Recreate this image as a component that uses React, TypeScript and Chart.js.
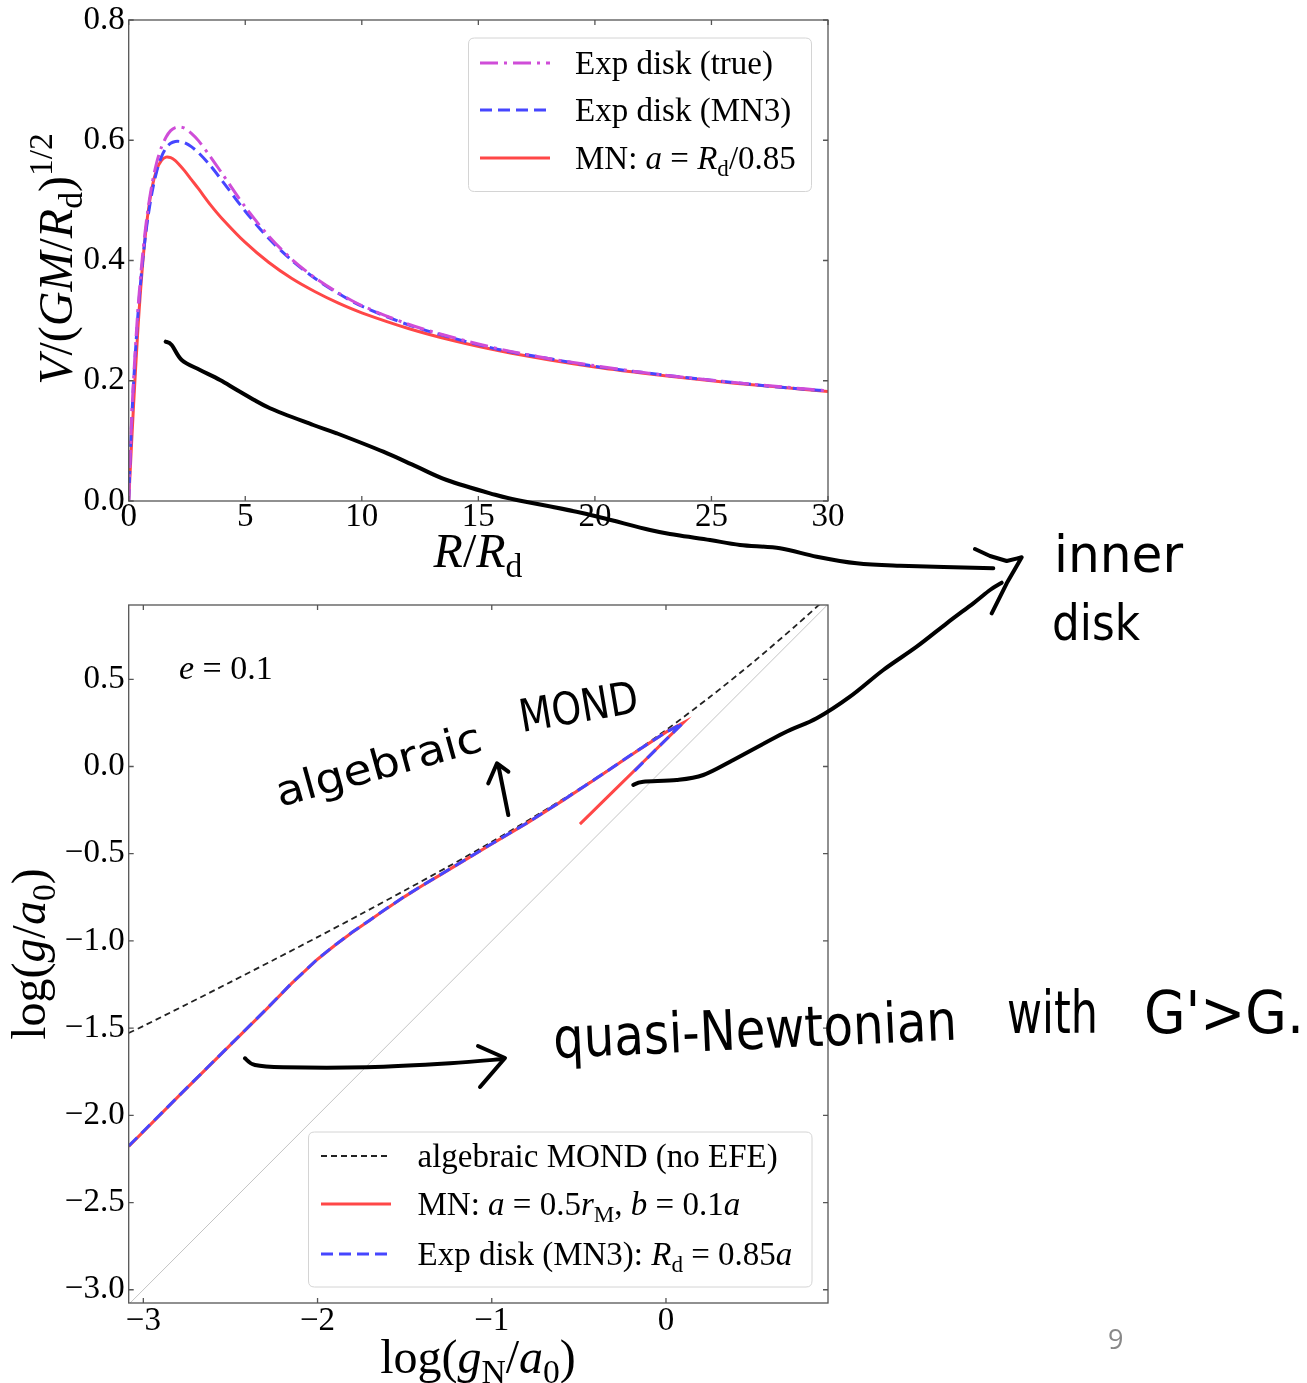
import React, { useEffect, useRef } from "react";
import { Chart, registerables } from "chart.js";
Chart.register(...registerables);

const SERIF = '"Liberation Serif", "Times New Roman", Times, serif';
const HAND = '"DejaVu Sans", "Noto Sans", sans-serif';

const MAGENTA = "#cf4dd8";
const BLUE = "#4646ff";
const RED = "#ff4747";

// ---------- Top panel: rotation curves ----------
const R_TOP = [0, 0.1, 0.2, 0.4, 0.6, 0.8, 1.0, 1.2, 1.4, 1.6, 1.8, 2.0, 2.2, 2.4, 2.7, 3.0, 3.5, 4, 5, 6, 7, 8, 9, 10, 12, 14, 16, 18, 20, 22, 24, 26, 28, 30];
const V_EXP_TRUE = [0, 0.114, 0.197, 0.321, 0.411, 0.478, 0.527, 0.563, 0.588, 0.605, 0.616, 0.621, 0.622, 0.620, 0.611, 0.599, 0.573, 0.545, 0.489, 0.441, 0.402, 0.371, 0.346, 0.325, 0.294, 0.271, 0.252, 0.237, 0.225, 0.214, 0.205, 0.197, 0.190, 0.183];
const V_EXP_MN3 = [0, 0.108, 0.190, 0.312, 0.400, 0.465, 0.513, 0.548, 0.572, 0.587, 0.595, 0.598, 0.598, 0.596, 0.589, 0.579, 0.558, 0.533, 0.482, 0.437, 0.400, 0.370, 0.345, 0.324, 0.293, 0.270, 0.251, 0.237, 0.224, 0.214, 0.205, 0.197, 0.189, 0.183];
const V_MN = [0, 0.078, 0.153, 0.289, 0.395, 0.471, 0.521, 0.551, 0.566, 0.572, 0.571, 0.566, 0.558, 0.549, 0.534, 0.519, 0.493, 0.470, 0.430, 0.397, 0.370, 0.348, 0.329, 0.313, 0.287, 0.266, 0.249, 0.235, 0.223, 0.213, 0.204, 0.196, 0.189, 0.182];
const TOP_X_TICKS = [0, 5, 10, 15, 20, 25, 30];
const TOP_Y_TICKS = [0, 0.2, 0.4, 0.6, 0.8];
const TOP_LABELS = ["Exp disk (true)", "Exp disk (MN3)", "MN: a = Rd/0.85"];

// ---------- Bottom panel: radial acceleration relation ----------
const LOG_GN_MN = [-3.084, -2.8, -2.5, -2.3, -2.15, -2.0, -1.9, -1.8, -1.7, -1.6, -1.5, -1.4, -1.3, -1.2, -1.0, -0.8, -0.6, -0.4, -0.2, 0.0, 0.098, -0.1, -0.3, -0.494];
const LOG_G_MN = [-2.178, -1.893, -1.596, -1.398, -1.245, -1.105, -1.025, -0.950, -0.882, -0.812, -0.746, -0.684, -0.624, -0.564, -0.444, -0.326, -0.200, -0.069, 0.066, 0.197, 0.250, 0.056, -0.140, -0.330];
const LOG_GN_MN3 = [-3.084, -2.8, -2.5, -2.3, -2.15, -2.0, -1.9, -1.8, -1.7, -1.6, -1.5, -1.4, -1.3, -1.2, -1.0, -0.8, -0.6, -0.4, -0.2, 0.0, 0.095, -0.05, -0.19];
const LOG_G_MN3 = [-2.176, -1.892, -1.595, -1.397, -1.244, -1.104, -1.024, -0.949, -0.881, -0.811, -0.745, -0.683, -0.623, -0.563, -0.443, -0.325, -0.199, -0.068, 0.067, 0.197, 0.247, 0.105, -0.035];
const LOG_GN_ALG = [-3.084, -3.0, -2.75, -2.5, -2.25, -2.0, -1.75, -1.5, -1.25, -1.0, -0.75, -0.5, -0.25, 0.0, 0.25, 0.5, 0.75, 0.93];
const LOG_G_ALG = [-1.528, -1.488, -1.363, -1.236, -1.108, -0.978, -0.846, -0.711, -0.574, -0.432, -0.284, -0.130, 0.034, 0.209, 0.397, 0.598, 0.812, 0.974];
const LOG_ONE = [-3.084, 0.93];
const BOT_X_TICKS = [-3, -2, -1, 0];
const BOT_Y_TICKS = [-3, -2.5, -2, -1.5, -1, -0.5, 0, 0.5];
const BOT_LABELS = ["algebraic MOND (no EFE)", "MN: a = 0.5rM, b = 0.1a", "Exp disk (MN3): Rd = 0.85a", "1:1"];

const minus = (s: string) => s.replace("-", "\u2212");

type Run = { t: string; it?: boolean; sub?: boolean; sup?: boolean };
function runFont(r: Run, size: number) {
  const s = r.sub || r.sup ? size * 0.7 : size;
  return `${r.it ? "italic " : ""}${s}px ${SERIF}`;
}
function runsWidth(ctx: CanvasRenderingContext2D, runs: Run[], size: number) {
  let w = 0;
  for (const r of runs) {
    ctx.font = runFont(r, size);
    w += ctx.measureText(r.t).width;
  }
  return w;
}
function drawRuns(ctx: CanvasRenderingContext2D, runs: Run[], x: number, y: number, size: number, align = "left") {
  const w = runsWidth(ctx, runs, size);
  let cx = align === "center" ? x - w / 2 : x;
  ctx.textAlign = "left";
  ctx.textBaseline = "alphabetic";
  ctx.fillStyle = "#000";
  for (const r of runs) {
    ctx.font = runFont(r, size);
    const dy = r.sub ? size * 0.2 : r.sup ? -size * 0.42 : 0;
    ctx.fillText(r.t, cx, y + dy);
    cx += ctx.measureText(r.t).width;
  }
}
function legendBox(ctx: CanvasRenderingContext2D, x0: number, y0: number, x1: number, y1: number) {
  const r = 6;
  ctx.beginPath();
  ctx.moveTo(x0 + r, y0);
  ctx.lineTo(x1 - r, y0);
  ctx.quadraticCurveTo(x1, y0, x1, y0 + r);
  ctx.lineTo(x1, y1 - r);
  ctx.quadraticCurveTo(x1, y1, x1 - r, y1);
  ctx.lineTo(x0 + r, y1);
  ctx.quadraticCurveTo(x0, y1, x0, y1 - r);
  ctx.lineTo(x0, y0 + r);
  ctx.quadraticCurveTo(x0, y0, x0 + r, y0);
  ctx.closePath();
  ctx.fillStyle = "rgba(255,255,255,0.85)";
  ctx.fill();
  ctx.strokeStyle = "#d4d4d4";
  ctx.lineWidth = 1;
  ctx.stroke();
}
function sample(ctx: CanvasRenderingContext2D, x0: number, x1: number, y: number, color: string, dash: number[], w: number) {
  ctx.save();
  ctx.beginPath();
  ctx.setLineDash(dash);
  ctx.strokeStyle = color;
  ctx.lineWidth = w;
  ctx.moveTo(x0, y);
  ctx.lineTo(x1, y);
  ctx.stroke();
  ctx.restore();
}

function framePlugin(id: string, xt: number[], yt: number[], offY: number, extra: (ctx: CanvasRenderingContext2D) => void) {
  return {
    id,
    afterDraw(chart: any) {
      const ctx: CanvasRenderingContext2D = chart.ctx;
      const a = chart.chartArea;
      const xs = chart.scales.x;
      const ys = chart.scales.y;
      ctx.save();
      ctx.strokeStyle = "#555";
      ctx.lineWidth = 1.3;
      ctx.setLineDash([]);
      ctx.strokeRect(a.left, a.top, a.right - a.left, a.bottom - a.top);
      ctx.beginPath();
      const L = 5;
      for (const v of xt) {
        const p = xs.getPixelForValue(v);
        ctx.moveTo(p, a.bottom);
        ctx.lineTo(p, a.bottom - L);
        ctx.moveTo(p, a.top);
        ctx.lineTo(p, a.top + L);
      }
      for (const v of yt) {
        const p = ys.getPixelForValue(v);
        ctx.moveTo(a.left, p);
        ctx.lineTo(a.left + L, p);
        ctx.moveTo(a.right, p);
        ctx.lineTo(a.right - L, p);
      }
      ctx.stroke();
      ctx.translate(0, -offY);
      extra(ctx);
      ctx.restore();
    },
  };
}

function axisCommon(min: number, max: number, ticks: number[], fmt: (v: number) => string, pad: number) {
  return {
    type: "linear" as const,
    min,
    max,
    afterBuildTicks: (s: any) => {
      s.ticks = ticks.map((v) => ({ value: v }));
    },
    grid: { display: false, drawTicks: false },
    border: { display: false },
    ticks: {
      color: "#000",
      padding: pad,
      maxRotation: 0,
      autoSkip: false,
      font: { family: SERIF, size: 33, lineHeight: 1 },
      callback: (v: any) => fmt(Number(v)),
    },
  };
}

const topExtras = (ctx: CanvasRenderingContext2D) => {
  legendBox(ctx, 468.5, 38, 811.5, 191.5);
  const rows: { y: number; color: string; dash: number[]; runs: Run[] }[] = [
    { y: 63, color: MAGENTA, dash: [18, 6, 3, 6], runs: [{ t: TOP_LABELS[0] }] },
    { y: 110, color: BLUE, dash: [12, 6], runs: [{ t: TOP_LABELS[1] }] },
    { y: 158, color: RED, dash: [], runs: [{ t: "MN: " }, { t: "a", it: true }, { t: " = " }, { t: "R", it: true }, { t: "d", sub: true }, { t: "/0.85" }] },
  ];
  for (const r of rows) {
    sample(ctx, 480, 550, r.y, r.color, r.dash, 3);
    drawRuns(ctx, r.runs, 575, r.y + 11, 33);
  }
  drawRuns(ctx, [{ t: "R", it: true }, { t: "/" }, { t: "R", it: true }, { t: "d", sub: true }], 478, 567, 48, "center");
  ctx.save();
  ctx.translate(72, 259);
  ctx.rotate(-Math.PI / 2);
  drawRuns(
    ctx,
    [{ t: "V", it: true }, { t: "/(" }, { t: "GM", it: true }, { t: "/" }, { t: "R", it: true }, { t: "d", sub: true }, { t: ")" }, { t: "1/2", sup: true }],
    0,
    0,
    48,
    "center"
  );
  ctx.restore();
};

const botExtras = (ctx: CanvasRenderingContext2D) => {
  drawRuns(ctx, [{ t: "e", it: true }, { t: " = 0.1" }], 179, 679, 34);
  legendBox(ctx, 308.5, 1132, 812, 1287);
  const rows: { y: number; color: string; dash: number[]; w: number; runs: Run[] }[] = [
    { y: 1156, color: "#222", dash: [6, 4], w: 1.8, runs: [{ t: BOT_LABELS[0] }] },
    { y: 1204, color: RED, dash: [], w: 3, runs: [{ t: "MN: " }, { t: "a", it: true }, { t: " = 0.5" }, { t: "r", it: true }, { t: "M", sub: true }, { t: ", " }, { t: "b", it: true }, { t: " = 0.1" }, { t: "a", it: true }] },
    { y: 1254, color: BLUE, dash: [12, 6], w: 3, runs: [{ t: "Exp disk (MN3): " }, { t: "R", it: true }, { t: "d", sub: true }, { t: " = 0.85" }, { t: "a", it: true }] },
  ];
  for (const r of rows) {
    sample(ctx, 321, 391, r.y, r.color, r.dash, r.w);
    drawRuns(ctx, r.runs, 417.5, r.y + 11, 33);
  }
  drawRuns(ctx, [{ t: "log(" }, { t: "g", it: true }, { t: "N", sub: true }, { t: "/" }, { t: "a", it: true }, { t: "0", sub: true }, { t: ")" }], 478, 1373, 48, "center");
  ctx.save();
  ctx.translate(45, 954);
  ctx.rotate(-Math.PI / 2);
  drawRuns(ctx, [{ t: "log(" }, { t: "g", it: true }, { t: "/" }, { t: "a", it: true }, { t: "0", sub: true }, { t: ")" }], 0, 0, 48, "center");
  ctx.restore();
};

const pts = (xs: number[], ys: number[]) => xs.map((x, i) => ({ x, y: ys[i] }));

const line = (p: number[][]) => "M" + p.map((q) => q.join(",")).join(" L");
// smooth Catmull-Rom path through hand-drawn stroke points
const smooth = (p: number[][]) => {
  let d = `M${p[0][0]},${p[0][1]}`;
  for (let i = 0; i < p.length - 1; i++) {
    const p0 = p[Math.max(0, i - 1)];
    const p1 = p[i];
    const p2 = p[i + 1];
    const p3 = p[Math.min(p.length - 1, i + 2)];
    const c1x = p1[0] + (p2[0] - p0[0]) / 6;
    const c1y = p1[1] + (p2[1] - p0[1]) / 6;
    const c2x = p2[0] - (p3[0] - p1[0]) / 6;
    const c2y = p2[1] - (p3[1] - p1[1]) / 6;
    d += ` C${c1x.toFixed(1)},${c1y.toFixed(1)} ${c2x.toFixed(1)},${c2y.toFixed(1)} ${p2[0]},${p2[1]}`;
  }
  return d;
};

export default function App() {
  const topRef = useRef<HTMLCanvasElement>(null);
  const botRef = useRef<HTMLCanvasElement>(null);

  useEffect(() => {
    const top = new Chart(topRef.current as HTMLCanvasElement, {
      type: "line",
      data: {
        datasets: [
          { label: TOP_LABELS[0], data: pts(R_TOP, V_EXP_TRUE), borderColor: MAGENTA, borderDash: [18, 6, 3, 6], borderWidth: 3, pointRadius: 0, tension: 0.3, fill: false },
          { label: TOP_LABELS[1], data: pts(R_TOP, V_EXP_MN3), borderColor: BLUE, borderDash: [12, 6], borderWidth: 3, pointRadius: 0, tension: 0.3, fill: false },
          { label: TOP_LABELS[2], data: pts(R_TOP, V_MN), borderColor: RED, borderWidth: 3, pointRadius: 0, tension: 0.3, fill: false },
        ],
      },
      options: {
        responsive: false,
        animation: false,
        events: [],
        layout: { padding: { top: 20, right: 32, left: 0, bottom: 0 } },
        plugins: { legend: { display: false }, tooltip: { enabled: false } },
        scales: {
          x: {
            ...axisCommon(0, 30, TOP_X_TICKS, (v) => String(v), 0),
            afterFit: (s: any) => {
              s.height = 89;
              s.paddingLeft = 0;
              s.paddingRight = 0;
            },
          },
          y: {
            ...axisCommon(0, 0.8, TOP_Y_TICKS, (v) => v.toFixed(1), 4),
            afterFit: (s: any) => {
              s.width = 128.7;
              s.paddingTop = 0;
              s.paddingBottom = 0;
            },
          },
        },
      } as any,
      plugins: [framePlugin("frameTop", TOP_X_TICKS, TOP_Y_TICKS, 0, topExtras)],
    });

    const bot = new Chart(botRef.current as HTMLCanvasElement, {
      type: "line",
      data: {
        datasets: [
          { label: BOT_LABELS[2], data: pts(LOG_GN_MN3, LOG_G_MN3), borderColor: BLUE, borderDash: [12, 6], borderWidth: 3, pointRadius: 0, tension: 0, fill: false },
          { label: BOT_LABELS[1], data: pts(LOG_GN_MN, LOG_G_MN), borderColor: RED, borderWidth: 3, pointRadius: 0, tension: 0, fill: false },
          { label: BOT_LABELS[0], data: pts(LOG_GN_ALG, LOG_G_ALG), borderColor: "#222", borderDash: [6, 4], borderWidth: 1.8, pointRadius: 0, tension: 0.3, fill: false },
          { label: BOT_LABELS[3], data: pts(LOG_ONE, LOG_ONE), borderColor: "#c4c4c4", borderWidth: 1, pointRadius: 0, tension: 0, fill: false },
        ],
      },
      options: {
        responsive: false,
        animation: false,
        events: [],
        layout: { padding: { top: 15, right: 32, left: 0, bottom: 0 } },
        plugins: { legend: { display: false }, tooltip: { enabled: false } },
        scales: {
          x: {
            ...axisCommon(-3.084, 0.93, BOT_X_TICKS, (v) => minus(String(v)), 1.5),
            afterFit: (s: any) => {
              s.height = 80;
              s.paddingLeft = 0;
              s.paddingRight = 0;
            },
          },
          y: {
            ...axisCommon(-3.076, 0.926, BOT_Y_TICKS, (v) => minus(v.toFixed(1)), 4),
            afterFit: (s: any) => {
              s.width = 128.7;
              s.paddingTop = 0;
              s.paddingBottom = 0;
            },
          },
        },
      } as any,
      plugins: [framePlugin("frameBot", BOT_X_TICKS, BOT_Y_TICKS, 590, botExtras)],
    });

    return () => {
      top.destroy();
      bot.destroy();
    };
  }, []);

  const P1 = [[165.7, 341.7], [171.7, 345], [181.7, 360], [200, 370], [220, 380], [240, 391.7], [270, 408.3], [313.3, 425], [336.7, 433.3], [383.3, 451.7], [416.7, 466.7], [446.7, 480], [490, 493.3], [516.7, 500], [583.3, 513.3], [650, 530], [676.7, 535], [710, 540], [740, 545], [780, 548.3], [816.7, 556.7], [856.7, 563.3], [900, 565.7], [993.3, 568.3]];
  const H1 = [[975, 549], [990, 556], [1006.7, 561], [1021.7, 557.3], [1006.7, 583.3], [991.7, 613.3]];
  const P2 = [[633.3, 785], [643.3, 781.7], [676.7, 780], [703.3, 775], [733.3, 760], [783.3, 733.3], [816.7, 718.3], [850, 696.7], [883.3, 670], [916.7, 646.7], [946.7, 623.3], [973.3, 603.3], [990, 590], [1001.7, 582.7]];
  const P3 = [[508.3, 815], [498.3, 765]];
  const H3 = [[488.3, 783.3], [497, 763.3], [508.3, 771.7]];
  const P4 = [[245, 1058.3], [255, 1065], [283.3, 1067.3], [366.7, 1067.3], [450, 1063.3], [503, 1059]];
  const H4 = [[478, 1046], [505, 1058], [480, 1087]];

  return (
    <div style={{ position: "absolute", left: 0, top: 0, width: 1307, height: 1383, background: "#fff", overflow: "hidden" }}>
      <canvas ref={topRef} width={860} height={590} style={{ position: "absolute", left: 0, top: 0, width: 860, height: 590 }} />
      <canvas ref={botRef} width={860} height={793} style={{ position: "absolute", left: 0, top: 590, width: 860, height: 793 }} />
      <svg width={1307} height={1383} style={{ position: "absolute", left: 0, top: 0, pointerEvents: "none" }}>
        <g fill="none" stroke="#000" strokeWidth={4} strokeLinecap="round" strokeLinejoin="round">
          <path d={smooth(P1)} />
          <path d={line(H1)} />
          <path d={smooth(P2)} />
          <path d={line(P3)} />
          <path d={line(H3)} />
          <path d={smooth(P4)} />
          <path d={line(H4)} />
        </g>
        <g fill="#000" fontFamily={HAND}>
          <text x={1054} y={572} fontSize={52} textLength={129} lengthAdjust="spacingAndGlyphs">inner</text>
          <text x={1052} y={640} fontSize={50} textLength={88} lengthAdjust="spacingAndGlyphs">disk</text>
          <text x={280} y={807} fontSize={42} textLength={212} lengthAdjust="spacingAndGlyphs" transform="rotate(-15.5 280 807)">algebraic</text>
          <text x={522} y={732} fontSize={45} textLength={120} lengthAdjust="spacingAndGlyphs" transform="rotate(-9.6 522 732)">MOND</text>
          <text x={554} y={1058} fontSize={56} textLength={404} lengthAdjust="spacingAndGlyphs" transform="rotate(-2.6 554 1058)">quasi-Newtonian</text>
          <text x={1007} y={1033} fontSize={58} textLength={91} lengthAdjust="spacingAndGlyphs">with</text>
          <text x={1144} y={1033} fontSize={58} textLength={160} lengthAdjust="spacingAndGlyphs">G'&gt;G.</text>
        </g>
        <text x={1108} y={1349} fill="#888" fontSize={27} fontFamily='"Open Sans", sans-serif'>9</text>
      </svg>
    </div>
  );
}
